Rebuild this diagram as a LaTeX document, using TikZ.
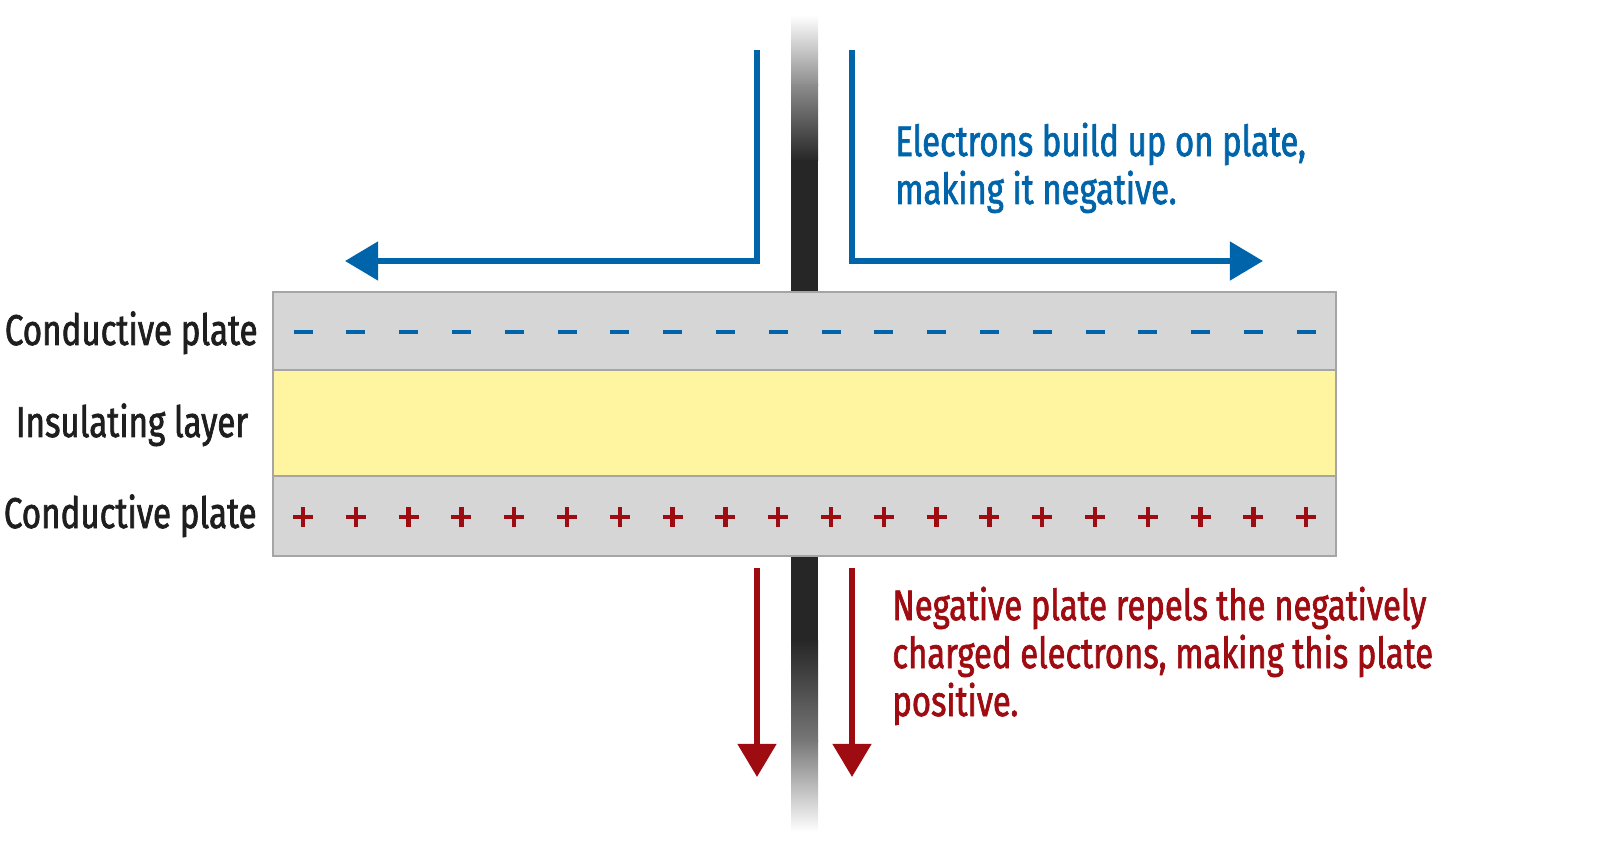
\documentclass[tikz,border=0pt]{standalone}
\usepackage{fontspec}
\setmainfont[FakeStretch=0.77,FakeBold=1.6]{Fira Sans}
\usetikzlibrary{arrows.meta}
\definecolor{eblue}{RGB}{0,100,170}
\definecolor{ered}{RGB}{158,12,18}
\definecolor{plategray}{RGB}{214,214,214}
\definecolor{plateedge}{RGB}{165,165,165}
\definecolor{insyellow}{RGB}{255,245,160}
\definecolor{bardark}{RGB}{38,38,38}
\definecolor{barmid}{RGB}{140,140,140}
\definecolor{txtdark}{RGB}{30,30,30}
\tikzset{
  platebox/.style={fill=plategray, draw=plateedge, line width=0.85pt},
  insbox/.style={fill=insyellow, draw=plateedge, line width=0.85pt},
  lbl/.style={inner sep=0pt, text=txtdark, font=\fontsize{24.5}{28}\selectfont},
  note/.style={inner sep=0pt, align=left, font=\fontsize{24.3}{27.3}\selectfont},
  barrow/.style={draw=eblue, line width=3.1pt, line join=miter, -{Triangle[length=18.8pt,width=21.5pt]}},
  rarrow/.style={draw=ered, line width=3.1pt, -{Triangle[length=18.8pt,width=21.5pt]}},
  minussign/.style={draw=eblue, line width=2.3pt},
  plussign/.style={draw=ered, line width=2.5pt},
}
\begin{document}
\begin{tikzpicture}[x=0.02cm,y=-0.02cm]
\useasboundingbox (0,0) rectangle (1600,841);
% vertical wire (upper)
\shade[top color=white, bottom color=barmid] (791,15) rectangle (818,86);
\shade[top color=barmid, bottom color=bardark] (791,85) rectangle (818,161);
\fill[bardark] (791,160) rectangle (818,293);
% vertical wire (lower)
\fill[bardark] (791,555) rectangle (818,641);
\shade[top color=bardark, bottom color=barmid!85!black] (791,640) rectangle (818,741);
\shade[top color=barmid!85!black, bottom color=white] (791,740) rectangle (818,832);
% plates
\path[platebox] (273,292) rectangle (1336,370);
\path[insbox] (273,370) rectangle (1336,476);
\path[platebox] (273,476) rectangle (1336,556);
% charges
\foreach \i in {0,...,19}{
  \draw[minussign] ({303+52.8*\i-9.5},332) -- ({303+52.8*\i+9.5},332);
  \draw[plussign] ({303+52.8*\i-10},517) -- ({303+52.8*\i+10},517);
  \draw[plussign] ({303+52.8*\i},507) -- ({303+52.8*\i},527);
}
% labels
\node[lbl, anchor=base east] (lbltop) at (258,345) {Conductive plate};
\node[lbl, anchor=base] (lblins) at (132,437) {Insulating layer};
\node[lbl, anchor=base east] (lblbot) at (257,528) {Conductive plate};
% blue arrows
\coordinate (bls) at (757,50);
\coordinate (ble) at (345,261);
\coordinate (brs) at (852,50);
\coordinate (bre) at (1263,261);
\draw[barrow] (bls) |- (ble);
\draw[barrow] (brs) |- (bre);
% red arrows
\coordinate (rls) at (757,568);
\coordinate (rle) at (757,777);
\coordinate (rrs) at (852,568);
\coordinate (rre) at (852,777);
\draw[rarrow] (rls) -- (rle);
\draw[rarrow] (rrs) -- (rre);
% notes (base anchor = baseline of last line)
\node[note, text=eblue, anchor=base west] (bnote) at (895,204) {Electrons build up on plate,\\making it negative.};
\node[note, text=ered, anchor=base west] (rnote) at (892,716) {Negative plate repels the negatively\\charged electrons, making this plate\\positive.};
\end{tikzpicture}
\end{document}
